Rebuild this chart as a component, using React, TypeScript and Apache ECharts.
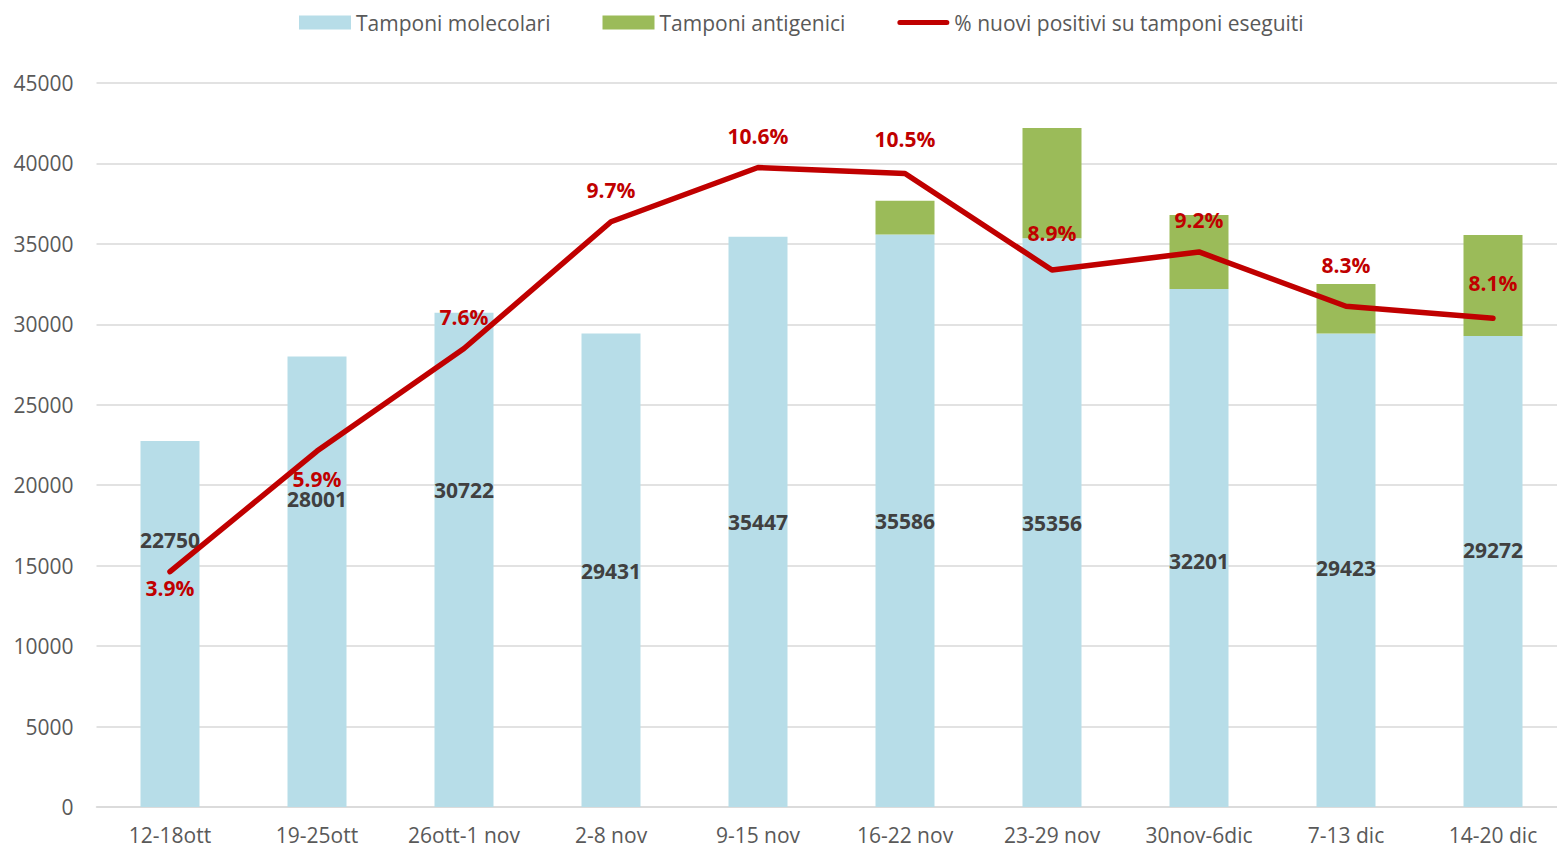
import React, { useEffect, useRef } from "react";
import * as echarts from "echarts";

const categories = ["12-18ott", "19-25ott", "26ott-1 nov", "2-8 nov", "9-15 nov", "16-22 nov", "23-29 nov", "30nov-6dic", "7-13 dic", "14-20 dic"];
const molecolari = [22750, 28001, 30722, 29431, 35447, 35586, 35356, 32201, 29423, 29272];
const antigenici = [0, 0, 0, 0, 0, 2100, 6850, 4590, 3080, 6280];
const percentuali = [3.9, 5.9, 7.6, 9.7, 10.6, 10.5, 8.9, 9.2, 8.3, 8.1];
const yTicks = { min: 0, max: 45000, interval: 5000 };

// label placement tweaks (styling only)
const molLabelDy = [-84, -83, -70, 1, 0, 0, 0, 13, -2, -22];
const pctLabelPos = ["bottom", "bottom", "top", "top", "top", "top", "top", "top", "top", "top"];
const pctLabelDist = [6, 17, 21, 21, 21, 24, 27, 21, 31, 25];

const FONT = "'Open Sans', sans-serif";
const LINE_ICON = "path://M2.5,0 L49.5,0 A2.5,2.5 0 0 1 49.5,5 L2.5,5 A2.5,2.5 0 0 1 2.5,0 Z";

export default function App() {
  const ref = useRef<HTMLDivElement>(null);
  useEffect(() => {
    document.body.style.margin = "0";
    document.body.style.overflow = "hidden";
    const chart = echarts.init(ref.current!, null, { renderer: "svg" });
    chart.setOption({
      animation: false,
      backgroundColor: "#ffffff",
      textStyle: { fontFamily: FONT },
      legend: {
        left: 299,
        top: 12,
        padding: 0,
        itemWidth: 52,
        itemHeight: 14,
        itemGap: 52,
        textStyle: { fontFamily: FONT, fontSize: 21, color: "#595959" },
        data: [
          { name: "Tamponi molecolari", icon: "rect" },
          { name: "Tamponi antigenici", icon: "rect" },
          { name: "% nuovi positivi su tamponi eseguiti", icon: LINE_ICON, itemStyle: { color: "#C00000" } },
        ],
      },
      grid: { left: 96.5, right: 0.5, top: 83, bottom: 40 },
      xAxis: {
        type: "category",
        data: categories,
        axisLine: { lineStyle: { color: "#D9D9D9", width: 1.5 } },
        axisTick: { show: false },
        axisLabel: { fontFamily: FONT, fontSize: 21, color: "#595959", margin: 17 },
      },
      yAxis: [
        {
          type: "value",
          min: yTicks.min,
          max: yTicks.max,
          interval: yTicks.interval,
          axisLine: { show: false },
          axisTick: { show: false },
          splitLine: { lineStyle: { color: "#D9D9D9", width: 1.5 } },
          axisLabel: { fontFamily: FONT, fontSize: 21, color: "#595959", margin: 23, formatter: (v: number) => String(v) },
        },
        { type: "value", min: 0, max: 12, show: false, splitLine: { show: false } },
      ],
      series: [
        {
          name: "Tamponi molecolari",
          type: "bar",
          stack: "t",
          barWidth: 59,
          itemStyle: { color: "#B7DDE8" },
          data: molecolari.map((v, i) => ({
            value: v,
            label: {
              show: true,
              position: "inside",
              offset: [0, molLabelDy[i]],
              fontFamily: FONT,
              fontSize: 21,
              fontWeight: "bold",
              color: "#404040",
            },
          })),
          z: 2,
        },
        {
          name: "Tamponi antigenici",
          type: "bar",
          stack: "t",
          barWidth: 59,
          itemStyle: { color: "#9BBB59" },
          data: antigenici.map((v) => (v === 0 ? null : v)),
          z: 2,
        },
        {
          name: "% nuovi positivi su tamponi eseguiti",
          type: "line",
          yAxisIndex: 1,
          symbol: "circle",
          symbolSize: 0,
          showSymbol: true,
          lineStyle: { color: "#C00000", width: 5.5, cap: "round", join: "round" },
          itemStyle: { color: "#C00000" },
          data: percentuali.map((v, i) => ({
            value: v,
            label: {
              show: true,
              position: pctLabelPos[i],
              distance: pctLabelDist[i],
              formatter: (p: any) => Number(p.value).toFixed(1) + "%",
              fontFamily: FONT,
              fontSize: 21,
              fontWeight: "bold",
              color: "#C00000",
            },
          })),
          z: 5,
        },
      ],
    });
    return () => chart.dispose();
  }, []);
  return (
    <div style={{ width: 1557, height: 847, overflow: "hidden" }}>
      <div ref={ref} style={{ width: 1567, height: 847 }} />
    </div>
  );
}
